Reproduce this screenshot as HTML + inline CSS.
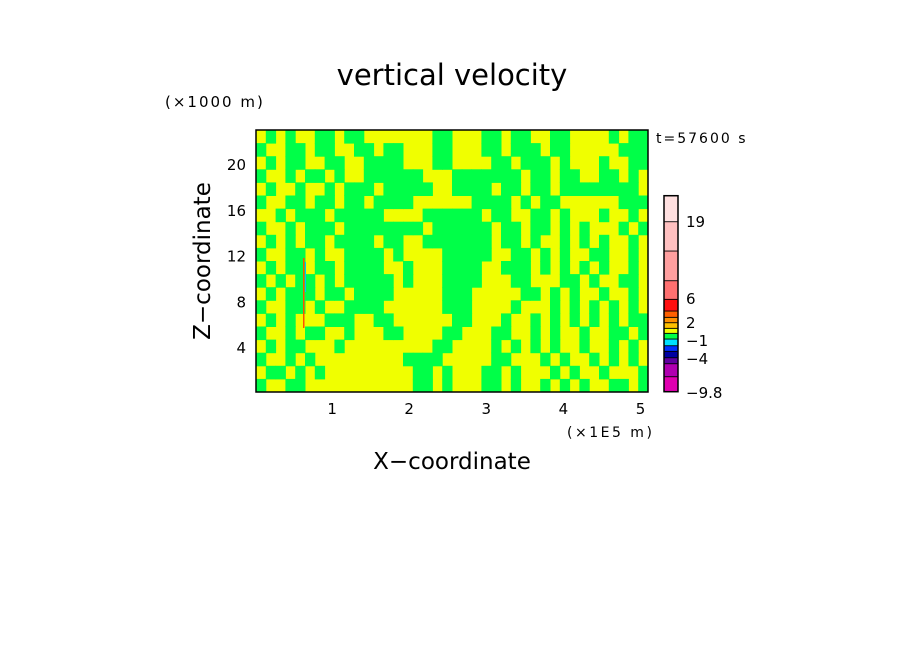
<!DOCTYPE html>
<html><head><meta charset="utf-8"><style>
html,body{margin:0;padding:0;background:#fff;width:904px;height:654px;overflow:hidden}
svg{display:block;font-family:"DejaVu Sans","Liberation Sans",sans-serif}
</style></head><body>
<svg id="chart" width="904" height="654">
<text x="452" y="85" font-size="29" text-anchor="middle">vertical velocity</text>
<text x="165" y="107" font-size="15" letter-spacing="2">(×1000 m)</text>
<text x="656" y="143" font-size="14" letter-spacing="2">t=57600 s</text>
<text x="567" y="437" font-size="14" letter-spacing="2.5">(×1E5 m)</text>
<text x="452" y="469" font-size="23" text-anchor="middle">X−coordinate</text>
<text x="0" y="0" font-size="23" text-anchor="middle" transform="translate(210,261) rotate(-90)">Z−coordinate</text>
<g id="field"></g>
<g id="axes"></g>
<g id="cbar"></g>
</svg>
<script>
const rows = [
"ygygyyggyggyyyyyyyggyyyggyggyyggyyyygygg",
"gyyggyggyyggyggyyyggyyyggygggyggyyyyyggg",
"ygyggyyggyyggggyyyggyyyyggygggygyyygyygg",
"gyygyggygyyggggggyyygggggggyggyggyyggygy",
"ygyygyygygggygggggyyggggyggyggyggggggggy",
"gyyggyggyggyggggyyyyyyggggygyggyyyyyyggg",
"yygygggygggggyyyygggggyggyyggygyyygyygy",
"gyygygggyggggggggygggggyggyggygygyyygyg",
"ygygyggyggggyggyygggggggyggygyygygygyygy",
"gyyggygyyggggygyyyygggggyyggygygyyggyygy",
"ygyggyggyggggyygyyyggggyygggygygygygyygy",
"gygyggygygggggygyyyggggyyyggyyyggygyyggy",
"ygygggyggyggggyyyyygggyyyyyggygygyygyygy",
"gyyggygyyggggyyyyyygggyyyygyyygygygygygy",
"ygygyyygggyyggyyyyyyggyyygyygygygygygygg",
"gyygyggyygyyyggyyyyggyyyggyygygyygyyggyg",
"ygyggyyygyyyyyyyyyggyyyygygygygyygyygygy",
"gyygygyyyyyyyyyggggyyyyyggyyygygyygygygy",
"yggygygyyyyyyyyyggygyyyggygyyygygyygyyyg",
"gyyggyyyyyyyyyyyggygyyyggygyygygygyyggyg"
];
rows[6]="yygygggygggggyyyyggggggyggyyggygyyygyygy";
rows[7]="gyygygggyggggggggyggggggyggyggygygyyygyg";
const xTicks = [1,2,3,4,5];
const yTicks = [4,8,12,16,20];
const cbColors = ["#e000b0","#b000b0","#6000a0","#0000a0","#0030ff","#00e0ff","#00ff48","#f0ff00","#ffc000","#ff9000","#ff6000","#ff1010","#ff7070","#ff9f9f","#ffc0c0","#ffe0e0"];
const cbBounds = [391.7,376.7,363.7,357.7,351.3,345.7,339,333.3,328.3,322.7,317.3,311,299.3,280.7,251,221.7,195.7];
const cbLabels = ["19","6","2","−1","−4","−9.8"];
const cbLabelY = [221,298,322,340,358,392];

const L=256,R=648,T=130,B=392;
const sx=v=>255+v*77.1, sy=v=>393-v*11.44;
const NS="http://www.w3.org/2000/svg";
function mk(tag,attrs,parent){const e=document.createElementNS(NS,tag);for(const k in attrs)e.setAttribute(k,attrs[k]);parent.appendChild(e);return e;}
const field=document.getElementById('field');
mk('rect',{x:L,y:T,width:R-L,height:B-T,fill:'#f0ff00'},field);
const ncol=40;
const cw=(R-L)/ncol, ch=(B-T)/rows.length;
rows.forEach((r,i)=>{[...r].slice(0,ncol).forEach((c,j)=>{
  if(c!=='g')return;
  const e=mk('rect',{x:L+j*cw,y:T+i*ch,width:cw+0.5,height:ch+0.5,fill:'#00ff48'},field);
  
  
});});
const s1=mk('rect',{x:303,y:258,width:1.5,height:70,fill:'#ff5000'},field);


const s2=mk('rect',{x:305,y:262,width:1,height:30,fill:'#00c0ff'},field);


const axes=document.getElementById('axes');
const fr=mk('rect',{x:L,y:T,width:R-L,height:B-T,fill:'none',stroke:'#000','stroke-width':1.5},axes);


xTicks.forEach(v=>{const t=mk('text',{x:sx(v),y:414,'font-size':15,'text-anchor':'middle'},axes);t.textContent=v;
  
  });
yTicks.forEach(v=>{const t=mk('text',{x:246,y:sy(v)+6,'font-size':15,'text-anchor':'end'},axes);t.textContent=v;
  
  });
const cb=document.getElementById('cbar');
cbColors.forEach((c,i)=>{const e=mk('rect',{x:664,y:cbBounds[i+1],width:14,height:cbBounds[i]-cbBounds[i+1],fill:c,stroke:'#000','stroke-width':0.8},cb);
  
  });
const cf=mk('rect',{x:664,y:cbBounds[16],width:14,height:cbBounds[0]-cbBounds[16],fill:'none',stroke:'#000','stroke-width':1.5},cb);


cbLabels.forEach((s,i)=>{const t=mk('text',{x:686,y:cbLabelY[i]+6,'font-size':15},cb);t.textContent=s;
  
  });
</script>
</body></html>
